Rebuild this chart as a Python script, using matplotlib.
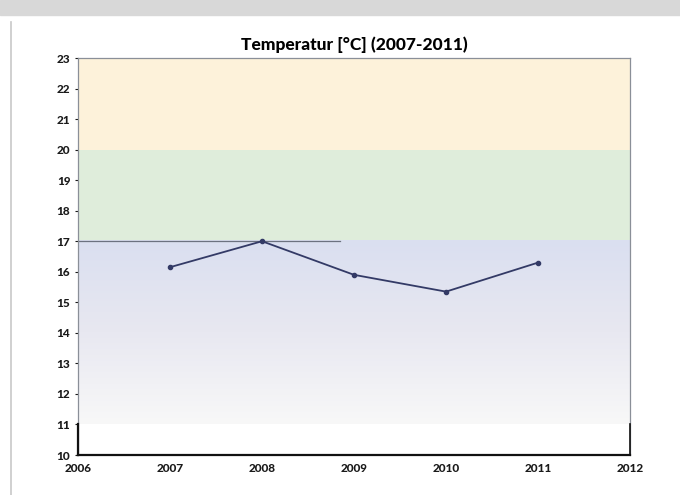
import numpy as np
import matplotlib.pyplot as plt
from matplotlib.colors import LinearSegmentedColormap

# data
years = [2007, 2008, 2009, 2010, 2011]
temps = [16.15, 17.0, 15.9, 15.35, 16.3]
ref_line_x = [2006, 2008.85]
ref_line_y = [17, 17]
x_ticks = [2006, 2007, 2008, 2009, 2010, 2011, 2012]
y_ticks = list(range(10, 24))
title = "Temperatur [°C] (2007-2011)"

plt.rcParams['font.family'] = ['Lato', 'DejaVu Sans']

fig = plt.figure(figsize=(6.8, 4.95), dpi=100)
ax = fig.add_axes([0.1147, 0.0808, 0.8118, 0.802])

# background bands
ax.axhspan(20, 23, color='#fdf2da', zorder=0, lw=0)
ax.axhspan(17, 20, color='#dfeddb', zorder=0, lw=0)
grad = LinearSegmentedColormap.from_list('band', ['#f8f8f8', '#e8e8f1', '#dadff0'])
ax.imshow(np.linspace(0, 1, 256).reshape(-1, 1), cmap=grad, origin='lower',
          extent=[2006, 2012, 11, 17], aspect='auto', zorder=0)

ax.plot(ref_line_x, ref_line_y, color='#6c7280', lw=0.9, zorder=2)
ax.plot(years, temps, color='#333a66', lw=1.3, marker='o', ms=3, zorder=3)

ax.set_xlim(2006, 2012)
ax.set_ylim(10, 23)
ax.set_xticks(x_ticks)
ax.set_yticks(y_ticks)
ax.tick_params(axis='both', length=2, width=0.8, labelsize=8.5, colors='#1a1a1a')
for lbl in ax.get_xticklabels() + ax.get_yticklabels():
    lbl.set_fontweight('black')
ax.tick_params(axis='x', length=0, pad=6)

for s in ['top', 'left', 'right']:
    ax.spines[s].set_color('#8a8f98')
    ax.spines[s].set_linewidth(0.9)
ax.spines['bottom'].set_color('#111111')
ax.spines['bottom'].set_linewidth(1.6)
# darker frame segment at the bottom
ax.plot([2006, 2006], [10, 11], color='#111111', lw=1.6, clip_on=False, zorder=4)
ax.plot([2012, 2012], [10, 11], color='#111111', lw=1.2, clip_on=False, zorder=4)

ax.set_title(title, fontsize=12.5, fontweight='black', pad=6)

# screenshot frame
fig.patches.append(plt.Rectangle((0, 0.97), 1, 0.03, transform=fig.transFigure,
                                 color='#d8d8d8', zorder=0))
fig.add_artist(plt.Line2D([0.016, 0.016], [0, 0.955], color='#c8c8c8', lw=1.2))

fig.savefig('out.png', dpi=100)
